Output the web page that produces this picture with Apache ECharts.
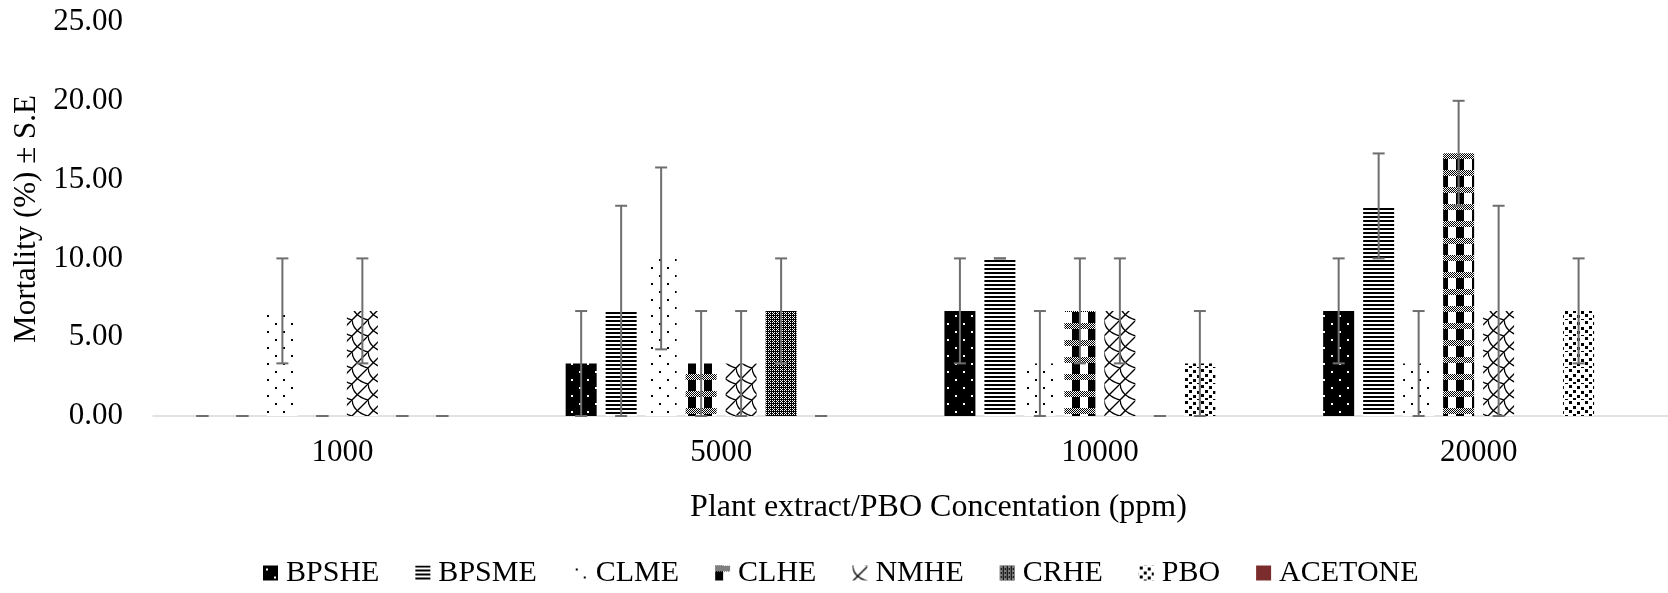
<!DOCTYPE html>
<html>
<head>
<meta charset="utf-8">
<script src="https://cdn.jsdelivr.net/npm/echarts@6/dist/echarts.min.js"></script>
<style>
  html, body { margin: 0; padding: 0; background: #ffffff; }
  #chart { width: 1668px; height: 593px; }
</style>
</head>
<body>
<div id="chart"></div>
<script>
// Concentrations on the x axis
const categories = ['1000', '5000', '10000', '20000'];

// Mean mortality (%) per treatment and its standard error (null = no error bar)
const bpshe      = [0, 3.33, 6.67, 6.67];
const bpsheErr   = [0, 3.33, 3.33, 3.33];
const bpsme      = [0, 6.67, 10, 13.33];
const bpsmeErr   = [0, 6.67, 0, 3.33];
const clme       = [6.67, 10, 3.33, 3.33];
const clmeErr    = [3.33, 5.77, 3.33, 3.33];
const clhe       = [0, 3.33, 6.67, 16.67];
const clheErr    = [0, 3.33, 3.33, 3.33];
const nmhe       = [6.67, 3.33, 6.67, 6.67];
const nmheErr    = [3.33, 3.33, 3.33, 6.67];
const crhe       = [0, 6.67, 0, 0];
const crheErr    = [0, 3.33, 0, null];
const pbo        = [0, 0, 3.33, 6.67];
const pboErr     = [0, 0, 3.33, 3.33];
const acetone    = [0, 0, 0, 0];
const acetoneErr = [null, null, null, null];

// Y axis ticks
const yMin = 0, yMax = 25, yStep = 5;

const FONT = "'Times New Roman', 'Liberation Serif', serif";
const BAR_W = 31;
const BAR_GAP = 0.29;
const ERR_COLOR = '#6e6e6e';

// ---- fill patterns -------------------------------------------------------
function tile(w, h, bg, draw) {
  const c = document.createElement('canvas');
  c.width = w; c.height = h;
  const ctx = c.getContext('2d');
  ctx.fillStyle = bg;
  ctx.fillRect(0, 0, w, h);
  draw(ctx);
  return c;
}
const pat = img => ({ image: img, repeat: 'repeat' });

// black with white dots
const pBPSHE = tile(16, 16, '#000', ctx => {
  ctx.fillStyle = '#fff';
  ctx.fillRect(3, 3, 2, 2);
  ctx.fillRect(11, 11, 2, 2);
});
// dense horizontal stripes
const pBPSME = tile(4, 4, '#fff', ctx => {
  ctx.fillStyle = '#000';
  ctx.fillRect(0, 0, 4, 2);
});
// sparse black dots
const pCLME = tile(16, 16, '#fff', ctx => {
  ctx.fillStyle = '#000';
  ctx.fillRect(3, 3, 2, 2);
  ctx.fillRect(11, 11, 2, 2);
});
// plaid: black columns crossed by a fine checker band
const pCLHE = tile(16, 17, '#fff', ctx => {
  ctx.fillStyle = '#000';
  ctx.fillRect(0, 0, 8, 17);
  ctx.fillStyle = '#fff';
  ctx.fillRect(0, 0, 16, 6);
  ctx.fillStyle = '#000';
  for (let y = 0; y < 6; y++) {
    for (let x = 0; x < 16; x++) {
      if ((x + y) % 2 === 0) ctx.fillRect(x, y, 1, 1);
    }
  }
});
// chain-link: straight rising strokes crossed by curved falling strokes
const pNMHE = tile(16, 16, '#fff', ctx => {
  ctx.strokeStyle = '#000';
  ctx.lineWidth = 1.4;
  ctx.beginPath();
  ctx.moveTo(0, 16); ctx.lineTo(16, 0);
  ctx.moveTo(0, 0); ctx.quadraticCurveTo(1, 12, 16, 16);
  ctx.stroke();
});
// dense dark checker
const pCRHE = tile(4, 4, '#000', ctx => {
  ctx.fillStyle = '#fff';
  [[0, 0], [2, 0], [0, 2], [2, 2], [1, 1]].forEach(p => ctx.fillRect(p[0], p[1], 1, 1));
});
// confetti squares
const pPBO = tile(16, 16, '#fff', ctx => {
  ctx.fillStyle = '#000';
  [[1, 1], [9, 2], [5, 6], [13, 7], [1, 10], [9, 11], [5, 14], [13, 15]].forEach(p => {
    ctx.fillRect(p[0], p[1], 3, 3);
  });
});

const groups = [
  { name: 'BPSHE',   values: bpshe,   err: bpsheErr,   color: pat(pBPSHE) },
  { name: 'BPSME',   values: bpsme,   err: bpsmeErr,   color: pat(pBPSME) },
  { name: 'CLME',    values: clme,    err: clmeErr,    color: pat(pCLME) },
  { name: 'CLHE',    values: clhe,    err: clheErr,    color: pat(pCLHE) },
  { name: 'NMHE',    values: nmhe,    err: nmheErr,    color: pat(pNMHE) },
  { name: 'CRHE',    values: crhe,    err: crheErr,    color: pat(pCRHE) },
  { name: 'PBO',     values: pbo,     err: pboErr,     color: pat(pPBO) },
  { name: 'ACETONE', values: acetone, err: acetoneErr, color: '#7b2c2c' }
];
const n = groups.length;

const barSeries = groups.map(g => ({
  name: g.name,
  type: 'bar',
  barWidth: BAR_W,
  barGap: (BAR_GAP * 100) + '%',
  data: g.values,
  itemStyle: { color: g.color },
  emphasis: { disabled: true },
  z: 2
}));

// error bars drawn over each bar, offset to that bar's slot in the group
const errSeries = groups.map((g, i) => ({
  name: g.name + ' S.E',
  type: 'custom',
  z: 5,
  silent: true,
  data: g.values.map((v, k) => g.err[k] == null ? null : [k, v - g.err[k], v + g.err[k]])
              .filter(d => d !== null),
  renderItem: (params, api) => {
    const pitch = BAR_W * (1 + BAR_GAP);
    const off = (i - (n - 1) / 2) * pitch;
    const lo = api.coord([api.value(0), api.value(1)]);
    const hi = api.coord([api.value(0), api.value(2)]);
    const x = lo[0] + off;
    const cap = 6;
    const style = { stroke: ERR_COLOR, lineWidth: 2, fill: null };
    return {
      type: 'group',
      children: [
        { type: 'line', shape: { x1: x, y1: lo[1], x2: x, y2: hi[1] }, style },
        { type: 'line', shape: { x1: x - cap, y1: hi[1], x2: x + cap, y2: hi[1] }, style },
        { type: 'line', shape: { x1: x - cap, y1: lo[1], x2: x + cap, y2: lo[1] }, style }
      ]
    };
  }
}));

const chart = echarts.init(document.getElementById('chart'), null, { renderer: 'canvas' });
chart.setOption({
  animation: false,
  backgroundColor: '#ffffff',
  textStyle: { fontFamily: FONT, color: '#000' },
  grid: { left: 153, top: 22, width: 1528, height: 394 },
  legend: {
    data: groups.map(g => g.name),
    bottom: 0,
    left: 258,
    icon: 'rect',
    itemWidth: 15,
    itemHeight: 15,
    itemGap: 36,
    textStyle: { fontFamily: FONT, fontSize: 30, color: '#000', padding: [0, 0, 0, 3] },
    selectedMode: false
  },
  xAxis: {
    type: 'category',
    data: categories,
    name: 'Plant extract/PBO Concentation (ppm)',
    nameLocation: 'middle',
    nameGap: 76,
    nameTextStyle: { fontFamily: FONT, fontSize: 32, color: '#000', padding: [0, 0, 0, 56] },
    axisLine: { lineStyle: { color: '#d9d9d9', width: 1.5 } },
    axisTick: { show: false },
    axisLabel: { fontFamily: FONT, fontSize: 31, color: '#000', margin: 21 }
  },
  yAxis: {
    type: 'value',
    min: yMin,
    max: yMax,
    interval: yStep,
    name: 'Mortality (%) \u00b1 S.E',
    nameLocation: 'middle',
    nameGap: 108,
    nameTextStyle: { fontFamily: FONT, fontSize: 31, color: '#000' },
    axisLine: { show: false },
    axisTick: { show: false },
    splitLine: { show: false },
    axisLabel: { fontFamily: FONT, fontSize: 31, color: '#000', margin: 30,
                 formatter: v => v.toFixed(2) }
  },
  series: barSeries.concat(errSeries)
});
</script>
</body>
</html>
